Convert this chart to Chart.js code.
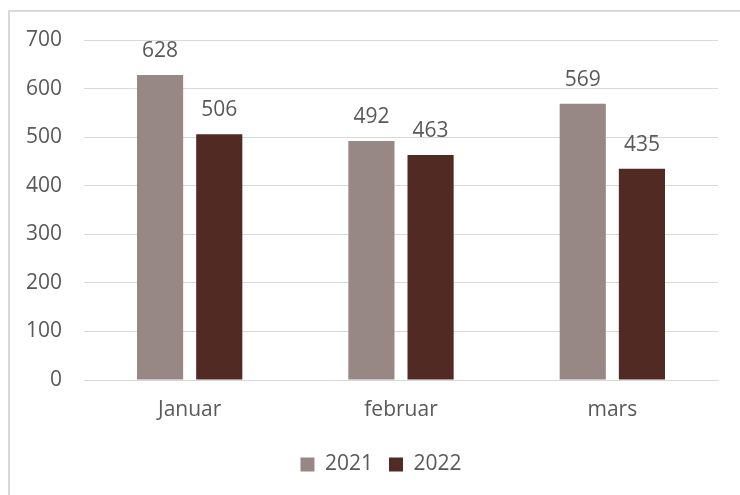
<!DOCTYPE html>
<html lang="no">
<head>
  <meta charset="UTF-8" />
  <title>2021 vs 2022</title>
  <script src="https://cdn.jsdelivr.net/npm/chart.js"></script>
  <style>
    html, body {
      margin: 0;
      padding: 0;
      background: #fff;
    }
    .frame {
      position: absolute;
      left: 8px;
      top: 10px;
      width: 760px;
      height: 520px;
      border-top: 2px solid #d9d9d9;
      border-left: 2px solid #d9d9d9;
    }
    .wrap {
      position: absolute;
      left: 0;
      top: 0;
      width: 740px;
      height: 495px;
    }
  </style>
</head>
<body>
  <div class="frame"></div>
  <div class="wrap"><canvas id="chart"></canvas></div>

  <script>
    const months = ['Januar', 'februar', 'mars'];
    const values2021 = [628, 492, 569];
    const values2022 = [506, 463, 435];
    const yTicks = [0, 100, 200, 300, 400, 500, 600, 700];

    const font = "'Open Sans', 'Liberation Sans', sans-serif";
    const textColor = '#595959';

    // value labels above each bar
    const barValues = {
      id: 'barValues',
      afterDatasetsDraw(chart) {
        const ctx = chart.ctx;
        ctx.save();
        ctx.font = '21px ' + font;
        ctx.fillStyle = textColor;
        ctx.textAlign = 'center';
        ctx.textBaseline = 'alphabetic';
        chart.data.datasets.forEach((ds, i) => {
          chart.getDatasetMeta(i).data.forEach((bar, j) => {
            ctx.fillText(ds.data[j], bar.x, bar.y - 18);
          });
        });
        ctx.restore();
      }
    };

    // the original legend sits a bit right of the canvas centre
    const legendShift = {
      id: 'legendShift',
      afterLayout(chart) {
        chart.legend.left += 22;
        chart.legend.right += 22;
      }
    };

    new Chart(document.getElementById('chart'), {
      type: 'bar',
      data: {
        labels: months,
        datasets: [
          {
            label: '2021',
            data: values2021,
            backgroundColor: '#978886',
            categoryPercentage: 0.56,
            barPercentage: 0.78
          },
          {
            label: '2022',
            data: values2022,
            backgroundColor: '#522a24',
            categoryPercentage: 0.56,
            barPercentage: 0.78
          }
        ]
      },
      options: {
        responsive: true,
        maintainAspectRatio: false,
        animation: false,
        layout: {
          padding: { left: 0, right: 22, top: 40, bottom: 10 }
        },
        plugins: {
          legend: {
            position: 'bottom',
            labels: {
              color: textColor,
              font: { family: font, size: 21 },
              boxWidth: 14,
              boxHeight: 14,
              padding: 16
            }
          },
          tooltip: { enabled: false }
        },
        scales: {
          x: {
            grid: { display: false },
            border: { color: '#d9d9d9', width: 1 },
            ticks: {
              color: textColor,
              font: { family: font, size: 21 },
              padding: 9
            },
            afterFit(scale) { scale.height = 58; }
          },
          y: {
            min: 0,
            max: 700,
            afterBuildTicks(scale) {
              scale.ticks = yTicks.map(v => ({ value: v }));
            },
            grid: { color: '#d9d9d9', lineWidth: 1, drawTicks: false },
            border: { display: false },
            ticks: {
              color: textColor,
              font: { family: font, size: 21 },
              padding: 22
            },
            afterFit(scale) { scale.width = 84; }
          }
        }
      },
      plugins: [barValues, legendShift]
    });
  </script>
</body>
</html>
